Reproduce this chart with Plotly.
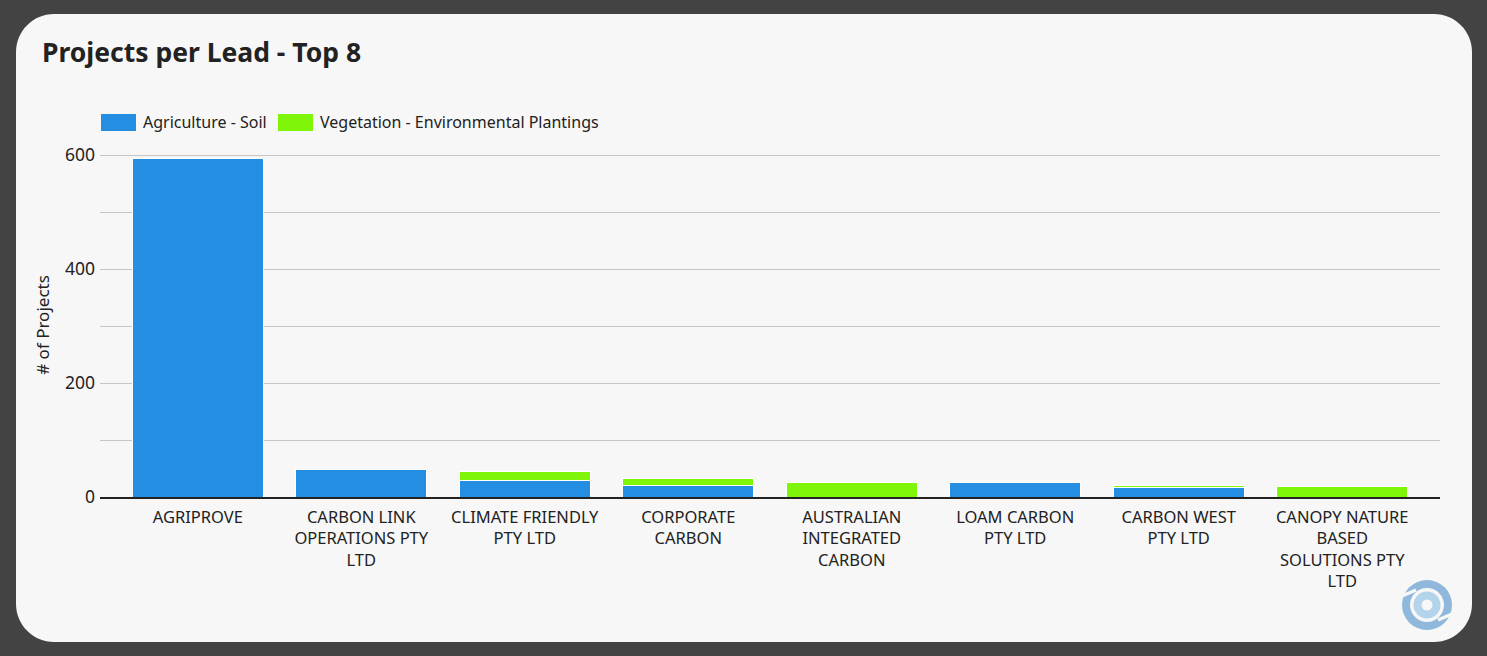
import plotly.graph_objects as go

# ---------------- data ----------------
leads = [
    "AGRIPROVE",
    "CARBON LINK<br>OPERATIONS PTY<br>LTD",
    "CLIMATE FRIENDLY<br>PTY LTD",
    "CORPORATE<br>CARBON",
    "AUSTRALIAN<br>INTEGRATED<br>CARBON",
    "LOAM CARBON<br>PTY LTD",
    "CARBON WEST<br>PTY LTD",
    "CANOPY NATURE<br>BASED<br>SOLUTIONS PTY<br>LTD",
]
agriculture_soil = [594, 49, 29, 20, 0, 26, 17, 0]
vegetation_env = [0, 0, 15, 13, 26, 0, 3, 18]
series_names = ["Agriculture - Soil", "Vegetation - Environmental Plantings"]
title_text = "Projects per Lead - Top 8"
y_title = "# of Projects"

# ---------------- styles ----------------
W, H = 1487, 656
L, R, T, B = 100, 1440, 153, 497  # plot area in pixels
Y_MAX = 604
BLUE = "#248fe2"
GREEN = "#7ff50a"
CARD = "#f7f7f7"
DARK = "#434343"
FONT = "Noto Sans"
TXT = "#222222"


def px(x):
    return (x - L) / (R - L)


def py(y):
    return (B - y) / (B - T)


fig = go.Figure()
fig.add_trace(go.Bar(x=leads, y=agriculture_soil, name=series_names[0],
                     marker=dict(color=BLUE, line=dict(color="white", width=1)),
                     width=0.8, showlegend=False))
fig.add_trace(go.Bar(x=leads, y=vegetation_env, name=series_names[1],
                     marker=dict(color=GREEN, line=dict(color="white", width=1)),
                     width=0.8, showlegend=False))

shapes = []
# rounded card
x0, x1, y0, y1, r = 16, 1472, 14, 642, 38
k = 0.45
path = (
    f"M {px(x0 + r)},{py(y0)} L {px(x1 - r)},{py(y0)} "
    f"C {px(x1 - r * k)},{py(y0)} {px(x1)},{py(y0 + r * k)} {px(x1)},{py(y0 + r)} "
    f"L {px(x1)},{py(y1 - r)} "
    f"C {px(x1)},{py(y1 - r * k)} {px(x1 - r * k)},{py(y1)} {px(x1 - r)},{py(y1)} "
    f"L {px(x0 + r)},{py(y1)} "
    f"C {px(x0 + r * k)},{py(y1)} {px(x0)},{py(y1 - r * k)} {px(x0)},{py(y1 - r)} "
    f"L {px(x0)},{py(y0 + r)} "
    f"C {px(x0)},{py(y0 + r * k)} {px(x0 + r * k)},{py(y0)} {px(x0 + r)},{py(y0)} Z"
)
shapes.append(dict(type="path", path=path, xref="paper", yref="paper",
                   fillcolor=CARD, line=dict(width=0), layer="below"))

# legend swatches
for (sx, col) in [(101, BLUE), (278, GREEN)]:
    shapes.append(dict(type="rect", xref="paper", yref="paper",
                       x0=px(sx), x1=px(sx + 35), y0=py(114), y1=py(131),
                       fillcolor=col, line=dict(width=0), layer="above"))

# logo
cx, cy = 1427, 605


def circ(rad, col):
    return dict(type="circle", xref="paper", yref="paper",
                x0=px(cx - rad), x1=px(cx + rad), y0=py(cy + rad), y1=py(cy - rad),
                fillcolor=col, line=dict(width=0), layer="above")


shapes.append(circ(25, "#8fb8dc"))
shapes.append(circ(17, CARD))
shapes.append(circ(13.5, "#b3d4ea"))
shapes.append(circ(5.5, CARD))
for (ax, ay, bx, by) in [(1402, 596, 1416, 590), (1438, 620, 1452, 614)]:
    shapes.append(dict(type="line", xref="paper", yref="paper",
                       x0=px(ax), y0=py(ay), x1=px(bx), y1=py(by),
                       line=dict(color=CARD, width=3.5), layer="above"))

annotations = [
    dict(text=series_names[0], x=px(141), y=py(122), xref="paper", yref="paper",
         xanchor="left", yanchor="middle", showarrow=False,
         font=dict(family=FONT, size=16, color=TXT)),
    dict(text=series_names[1], x=px(318), y=py(122), xref="paper", yref="paper",
         xanchor="left", yanchor="middle", showarrow=False,
         font=dict(family=FONT, size=16, color=TXT)),
]

fig.update_layout(
    width=W, height=H,
    barmode="stack",
    paper_bgcolor=DARK,
    plot_bgcolor="rgba(0,0,0,0)",
    margin=dict(l=L, r=W - R, t=T, b=H - B, pad=0),
    title=dict(text=title_text, x=42 / W, xanchor="left", xref="container",
               y=1 - 53 / H, yanchor="middle", yref="container",
               font=dict(family=FONT, size=26.5, color=TXT, weight="bold")),
    shapes=shapes,
    annotations=annotations,
    showlegend=False,
    bargap=0.2,
)
fig.update_xaxes(
    range=[-0.598, 7.598], showgrid=False, showline=True, linecolor=TXT,
    linewidth=2, ticks="", tickfont=dict(family=FONT, size=16.5, color=TXT),
    tickangle=0, fixedrange=True, ticklabelstandoff=4,
)
fig.update_yaxes(
    range=[0, Y_MAX], dtick=200, tick0=0, showgrid=True, gridcolor="#c6c6c6",
    gridwidth=1, zeroline=False, showline=False, ticks="",
    tickfont=dict(family=FONT, size=17.5, color=TXT), ticklabelstandoff=4,
    minor=dict(dtick=100, showgrid=True, gridcolor="#c6c6c6", gridwidth=1),
    title=dict(text=y_title, font=dict(family=FONT, size=17, color=TXT), standoff=11),
    fixedrange=True,
)

fig.write_html(
    "out.html",
    config={"displayModeBar": False},
    post_script="document.body.style.margin='0';document.body.style.background='%s';" % DARK,
)
